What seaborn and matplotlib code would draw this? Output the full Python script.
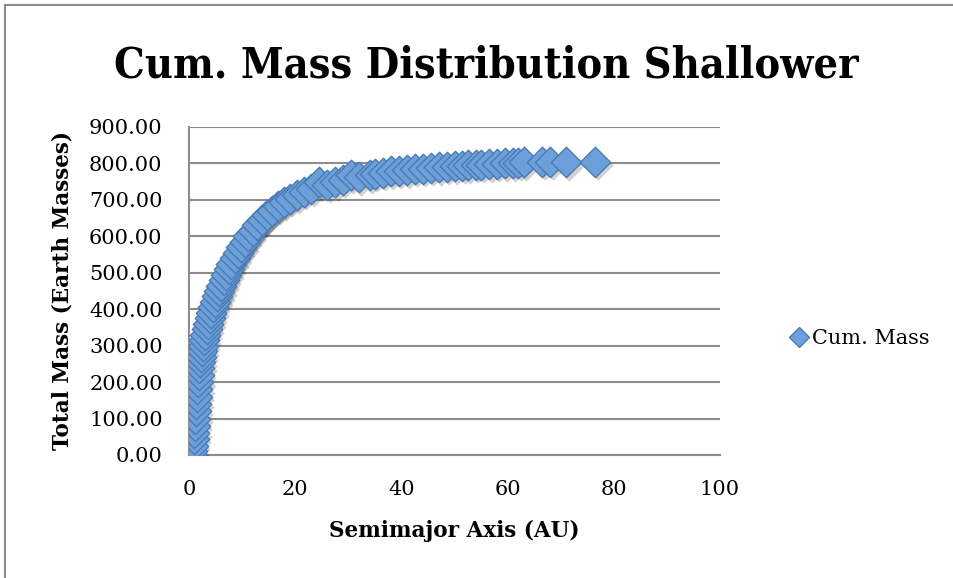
import matplotlib
matplotlib.use("Agg")
import matplotlib.pyplot as plt
import matplotlib.transforms as mtransforms
from matplotlib.lines import Line2D
import seaborn as sns
import pandas as pd

# Semimajor axis (AU)
semimajor_axis = [0.3, 0.5, 0.7, 0.9, 1.0, 1.1, 1.2, 1.3, 1.4, 1.5, 1.6, 1.7, 1.8, 1.9,
                  2.0, 2.2, 2.4, 2.6, 2.8, 3.0, 3.3, 3.6, 3.9, 4.2, 4.5, 4.9, 5.3, 5.7,
                  6.1, 6.5, 7.0, 7.5, 8.0, 8.6, 9.2, 9.8, 10.5, 11.2, 12.0, 12.8, 13.7,
                  14.6, 15.6, 16.7, 17.8, 19.0, 20.3, 21.6, 23.0, 24.5, 26.0, 27.5, 29.0,
                  30.5, 32.0, 34.0, 35.0, 36.5, 38.0, 39.5, 41.0, 42.5, 44.0, 45.5, 47.0,
                  48.5, 50.0, 51.5, 52.5, 54.0, 55.0, 56.5, 58.0, 59.5, 61.0, 62.0, 63.0,
                  66.5, 68.0, 71.0, 76.5]
# Cumulative mass (Earth masses)
cum_mass = [0, 10, 25, 45, 60, 80, 100, 120, 140, 160, 180, 200, 220, 240,
            255, 270, 285, 300, 315, 330, 345, 360, 375, 390, 405, 420, 435, 450,
            465, 480, 495, 510, 525, 540, 555, 570, 585, 600, 615, 630, 645,
            658, 670, 682, 693, 703, 713, 722, 730, 748, 742, 748, 755,
            768, 762, 768, 772, 775, 778, 780, 782, 785, 786, 788, 789,
            791, 792, 793, 795, 796, 797, 798, 799, 800, 801, 802, 803,
            804, 805, 803, 804]

y_ticks = [0, 100, 200, 300, 400, 500, 600, 700, 800, 900]
x_ticks = [0, 20, 40, 60, 80, 100]
series_name = "Cum. Mass"

df = pd.DataFrame({"a": semimajor_axis, "m": cum_mass})

sns.set_theme(style="white")
plt.rcParams["font.family"] = ["DejaVu Serif"]
plt.rcParams["text.color"] = "black"
plt.rcParams["axes.labelcolor"] = "black"

fig = plt.figure(figsize=(9.54, 5.78), dpi=100)
ax = fig.add_axes([189 / 954, 1 - 455 / 578, (720 - 189) / 954, (455 - 127) / 578])

fill = "#6d9fd8"
edge = "#4a7bb7"
msize = 240

shadow_tr = mtransforms.offset_copy(ax.transData, fig=fig, x=2.5, y=-3.5, units="dots")
sns.scatterplot(data=df, x="a", y="m", ax=ax, marker="D", s=msize, color="#000000",
                alpha=0.18, linewidth=0, transform=shadow_tr, legend=False, zorder=3)
sns.scatterplot(data=df, x="a", y="m", ax=ax, marker="D", s=msize, color=fill,
                edgecolor=edge, linewidth=1.0, legend=False, zorder=4)

ax.set_xlim(0, 100)
ax.set_ylim(0, 900)
ax.set_xticks(x_ticks)
ax.set_yticks(y_ticks)
ax.set_yticklabels([f"{v:.2f}" for v in y_ticks])
ax.set_xticklabels([str(v) for v in x_ticks])
ax.tick_params(axis="both", labelsize=15, labelcolor="black")
ax.tick_params(axis="x", direction="out", length=8, width=1.5, color="#8c8c8c", pad=10)
ax.tick_params(axis="y", length=0, pad=19)

ax.yaxis.grid(True, color="#8c8c8c", linewidth=1.5)
ax.xaxis.grid(False)
ax.set_axisbelow(True)
for side in ["top", "right"]:
    ax.spines[side].set_visible(False)
for side in ["left", "bottom"]:
    ax.spines[side].set_color("#8c8c8c")
    ax.spines[side].set_linewidth(1.5)

ax.set_xlabel("Semimajor Axis (AU)", fontsize=15.5, fontweight="bold", labelpad=15)
ax.set_ylabel("Total Mass (Earth Masses)", fontsize=15.5, fontweight="bold", labelpad=11)

fig.text(486 / 954, 1 - 65 / 578, "Cum. Mass Distribution Shallower", ha="center",
         va="center", fontsize=31, fontweight="bold", fontstretch="condensed")

handle = Line2D([], [], marker="D", linestyle="none", markersize=10,
                markerfacecolor=fill, markeredgecolor=edge)
fig.legend([handle], [series_name], loc="center left",
           bbox_to_anchor=(770 / 954, 1 - 339 / 578), frameon=False,
           handletextpad=0.1, handlelength=1.0, prop={"size": 15})

# outer chart border (top and left visible)
fig.add_artist(Line2D([5 / 954, 5 / 954], [1 - 5 / 578, 0], color="#8c8c8c",
                      linewidth=1.5, transform=fig.transFigure))
fig.add_artist(Line2D([5 / 954, 1.01], [1 - 5 / 578, 1 - 5 / 578], color="#8c8c8c",
                      linewidth=1.5, transform=fig.transFigure))

fig.savefig("out.png", dpi=100)
